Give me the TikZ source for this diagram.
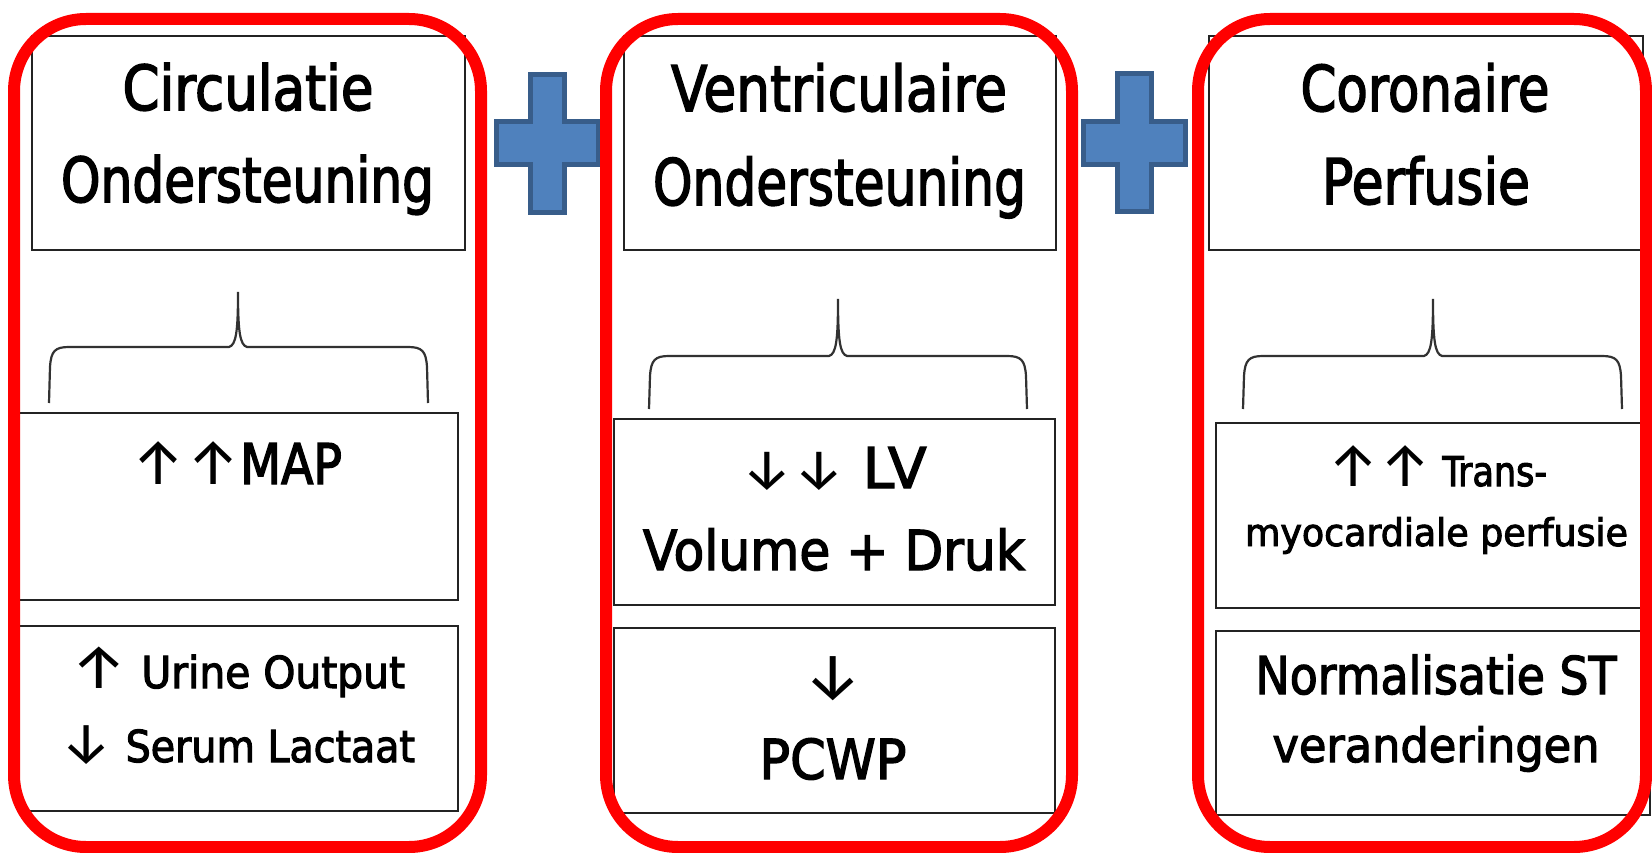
\documentclass[tikz,border=0pt]{standalone}
\usepackage{fontspec}
\usepackage{graphicx}
\setmainfont{DejaVu Sans}[FakeBold=2.5]
\newfontfamily\condf{DejaVu Sans Condensed}[FakeBold=2.5]
\newfontfamily\arrf{Fira Sans}
\definecolor{plusfill}{RGB}{79,129,189}
\definecolor{plusedge}{RGB}{56,93,138}
\definecolor{boxline}{RGB}{35,35,35}
\definecolor{braceline}{RGB}{50,50,50}
\tikzset{
  txt/.style={anchor=base, inner sep=0pt, outer sep=0pt, text=black},
  blackbox/.style={draw=boxline, line width=2.4pt},
  redbox/.style={draw=red, line width=12pt, rounded corners=72pt},
  bracestyle/.style={draw=braceline, line width=2.2pt},
  plusstyle/.style={fill=plusfill, draw=plusedge, line width=5pt, line join=miter}
}
% fitted text: #1 width, #2 font size, #3 text
\newcommand\fitR[3]{\resizebox{#1pt}{\height}{\fontsize{#2}{#2}\selectfont #3}}
\newcommand\fitC[3]{\resizebox{#1pt}{\height}{\condf\fontsize{#2}{#2}\selectfont #3}}
% arrow glyphs in Fira Sans at a given size
\newcommand\arw[2]{{\arrf\fontsize{#1}{#1}\selectfont #2}}
% brace: x1, x2, xc, ybottom, yhoriz, ytip
\newcommand\mybrace[6]{%
  \draw[bracestyle] (#1,#4) -- ({#1+1},{#5+20}) .. controls ({#1+2},{#5+4}) and ({#1+6},#5) .. ({#1+20},#5)
    -- ({#3-9},#5) .. controls ({#3-2},{#5-2}) and (#3,{#5-15}) .. (#3,#6)
    .. controls (#3,{#5-15}) and ({#3+2},{#5-2}) .. ({#3+9},#5)
    -- ({#2-20},#5) .. controls ({#2-6},#5) and ({#2-2},{#5+4}) .. ({#2-1},{#5+20}) -- (#2,#4);}
% plus: cx, cy
\newcommand\myplus[2]{%
  \draw[plusstyle] ({#1-17},{#2-69}) -- ({#1+17},{#2-69}) -- ({#1+17},{#2-21.5}) -- ({#1+51},{#2-21.5})
    -- ({#1+51},{#2+21.5}) -- ({#1+17},{#2+21.5}) -- ({#1+17},{#2+69}) -- ({#1-17},{#2+69})
    -- ({#1-17},{#2+21.5}) -- ({#1-51},{#2+21.5}) -- ({#1-51},{#2-21.5}) -- ({#1-17},{#2-21.5}) -- cycle;}
\begin{document}
\begin{tikzpicture}[x=1pt,y=-1pt]
\useasboundingbox[fill=white] (0,0) rectangle (1652,853);

% ---------- black boxes ----------
\draw[blackbox] (32,36) rectangle (465,250);
\draw[blackbox] (624,36) rectangle (1056,250);
\draw[blackbox] (1209,36) rectangle (1643,250);
\draw[blackbox] (19,413) rectangle (458,600);
\draw[blackbox] (614,419) rectangle (1055,605);
\draw[blackbox] (1216,423) rectangle (1650,608);
\draw[blackbox] (19,626) rectangle (458,811);
\draw[blackbox] (614,628) rectangle (1055,813);
\draw[blackbox] (1216,631) rectangle (1650,815);

% ---------- braces ----------
\mybrace{49}{428}{238}{403}{347}{292}
\mybrace{649}{1027}{838}{409}{356}{299}
\mybrace{1243}{1622}{1433}{409}{356}{299}

% ---------- column 1 texts ----------
\node[txt] (c1t1) at (248,110) {\fitC{251}{62}{Circulatie}};
\node[txt] (c1t2) at (247.5,202) {\fitC{373}{62}{Ondersteuning}};
\node[txt] (c1m1) at (237,484) {\fitC{210}{56}{\arw{64}{↑↑}MAP}};
\node[txt] (c1b1) at (238,688) {\fitC{334}{44}{\arw{62}{↑} Urine Output}};
\node[txt] (c1b2) at (238,762) {\fitC{354}{44}{\arw{58}{↓} Serum Lactaat}};

% ---------- column 2 texts ----------
\node[txt] (c2t1) at (839,111) {\fitR{336}{63}{Ventriculaire}};
\node[txt] (c2t2) at (839.5,205) {\fitR{373}{64}{Ondersteuning}};
\node[txt] (c2m1) at (834,488) {\fitR{185}{56}{\arw{57}{↓↓} LV}};
\node[txt] (c2m2) at (834,570) {\fitR{382}{55}{Volume + Druk}};
\node[txt] (c2b1) at (833,698) {\arw{66}{↓}};
\node[txt] (c2b2) at (833,779) {\fitR{147}{55}{PCWP}};

% ---------- column 3 texts ----------
\node[txt] (c3t1) at (1425,111) {\fitR{249}{63}{Coronaire}};
\node[txt] (c3t2) at (1426,204) {\fitR{208}{63}{Perfusie}};
\node[txt] (c3m1) at (1437,486) {\fitC{220}{41}{\arw{61}{↑↑} Trans-}};
\node[txt] (c3m2) at (1436.5,546) {\fitC{383}{38}{myocardiale perfusie}};
\node[txt] (c3b1) at (1436,694) {\fitR{361}{52}{Normalisatie ST}};
\node[txt] (c3b2) at (1436,762) {\fitR{327}{47}{veranderingen}};

% ---------- plus signs ----------
\myplus{547}{143.5}
\myplus{1134}{143}

% ---------- red frames ----------
\draw[redbox] (14,19) rectangle (481,847);
\draw[redbox] (606,19) rectangle (1072,847);
\draw[redbox] (1198,19) rectangle (1646,847);
\end{tikzpicture}
\end{document}
